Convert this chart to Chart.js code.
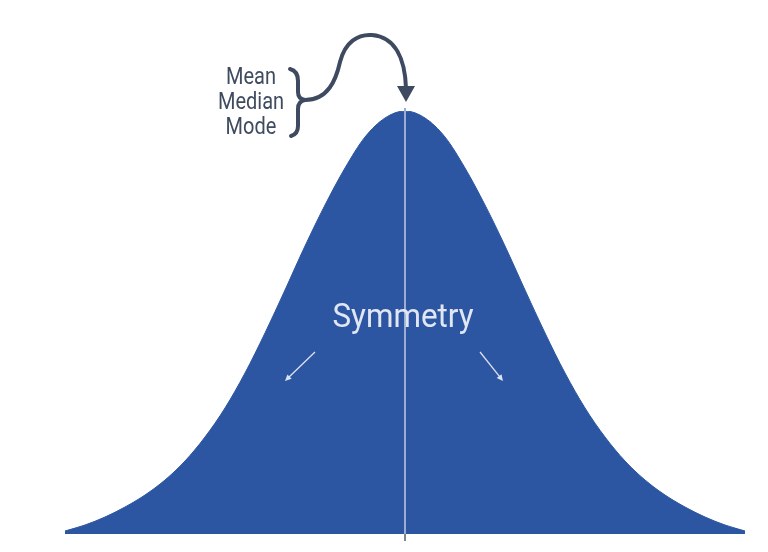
<!DOCTYPE html>
<html>
<head>
<meta charset="utf-8">
<script src="https://cdn.jsdelivr.net/npm/chart.js@4"></script>
<style>
  html, body { margin: 0; padding: 0; background: #fff; }
  #wrap { width: 768px; height: 552px; position: relative; }
</style>
</head>
<body>
<div id="wrap"><canvas id="chart"></canvas></div>
<script>
// positions along the curve (centre = 0) and the curve heights
const xs = [-3.4, -3.2, -3.0, -2.8, -2.6, -2.4, -2.2, -2.0, -1.8, -1.6, -1.4, -1.2, -1.0, -0.8, -0.6, -0.4, -0.2,
  0, 0.2, 0.4, 0.6, 0.8, 1.0, 1.2, 1.4, 1.6, 1.8, 2.0, 2.2, 2.4, 2.6, 2.8, 3.0, 3.2, 3.4];
const heights = [3, 9, 17, 27, 39, 54, 73, 97, 126, 161, 201, 244, 288, 329, 366, 397, 416,
  423, 416, 397, 366, 329, 288, 244, 201, 161, 126, 97, 73, 54, 39, 27, 17, 9, 3];
const centreLabels = ["Mean", "Median", "Mode"];
const middleLabel = "Symmetry";

const ctx = document.getElementById("chart").getContext("2d");

const points = xs.map((x, i) => ({ x: x, y: heights[i] }));

const arrow = (c, x1, y1, x2, y2, head) => {
  const a = Math.atan2(y2 - y1, x2 - x1);
  c.beginPath();
  c.moveTo(x1, y1);
  c.lineTo(x2 - Math.cos(a) * head * 0.6, y2 - Math.sin(a) * head * 0.6);
  c.stroke();
  c.beginPath();
  c.moveTo(x2, y2);
  c.lineTo(x2 - head * Math.cos(a - 0.45), y2 - head * Math.sin(a - 0.45));
  c.lineTo(x2 - head * Math.cos(a + 0.45), y2 - head * Math.sin(a + 0.45));
  c.closePath();
  c.fill();
};

// narrow text a little, the picture uses a condensed face
const squeezedText = (c, text, x, y, sx) => {
  c.save();
  c.translate(x, y);
  c.scale(sx, 1);
  c.fillText(text, 0, 0);
  c.restore();
};

const decorations = {
  id: "decorations",
  afterDatasetsDraw(chart) {
    const c = chart.ctx;
    const xScale = chart.scales.x, yScale = chart.scales.y;
    const cx = xScale.getPixelForValue(0);
    const top = yScale.getPixelForValue(Math.max(...heights));
    const base = yScale.getPixelForValue(0);
    c.save();

    // centre line
    c.strokeStyle = "#9cafd2";
    c.lineWidth = 2;
    c.beginPath();
    c.moveTo(cx, top - 3);
    c.lineTo(cx, base);
    c.stroke();
    c.strokeStyle = "#7d8593";
    c.beginPath();
    c.moveTo(cx, base);
    c.lineTo(cx, base + 7);
    c.stroke();

    // Symmetry label with its two arrows
    c.fillStyle = "#e1e6f3";
    c.font = "33px Roboto";
    c.textAlign = "center";
    c.textBaseline = "alphabetic";
    squeezedText(c, middleLabel, cx - 2, top + 216, 0.95);
    c.strokeStyle = "#dbe2f1";
    c.fillStyle = "#dbe2f1";
    c.lineWidth = 1.3;
    arrow(c, cx - 90, top + 241, cx - 120, top + 270, 7);
    arrow(c, cx + 75, top + 241, cx + 98, top + 270, 7);

    // Mean / Median / Mode
    c.fillStyle = "#3f4b5e";
    c.font = "23px Roboto";
    c.textAlign = "center";
    centreLabels.forEach((t, i) => squeezedText(c, t, 251, 84 + i * 25, 0.87));

    // brace
    c.strokeStyle = "#3d4a5f";
    c.fillStyle = "#3d4a5f";
    c.lineWidth = 4;
    c.lineCap = "round";
    c.lineJoin = "round";
    c.beginPath();
    c.moveTo(290, 69);
    c.quadraticCurveTo(298, 71, 298, 81);
    c.lineTo(298, 92);
    c.quadraticCurveTo(298, 99, 305, 100);
    c.quadraticCurveTo(298, 101, 298, 109);
    c.lineTo(298, 126);
    c.quadraticCurveTo(298, 134, 291, 136);
    c.stroke();

    // curved arrow down to the peak
    c.beginPath();
    c.moveTo(305, 100);
    c.bezierCurveTo(328, 100, 336, 80, 340, 62);
    c.bezierCurveTo(345, 42, 358, 34, 372, 35);
    c.bezierCurveTo(396, 37, 405, 60, 406, 88);
    c.stroke();
    c.beginPath();
    c.moveTo(397, 86);
    c.lineTo(415, 86);
    c.lineTo(406, 102);
    c.closePath();
    c.fill();

    c.restore();
  }
};

const config = {
  type: "line",
  data: {
    datasets: [
      {
        data: points,
        borderColor: "#2d56a2",
        borderWidth: 1,
        backgroundColor: "#2d56a2",
        fill: "origin",
        pointRadius: 0,
        tension: 0.4,
        cubicInterpolationMode: "monotone",
      },
    ],
  },
  options: {
    responsive: true,
    maintainAspectRatio: false,
    animation: false,
    layout: { padding: { left: 65, right: 23, top: 111, bottom: 18 } },
    plugins: { legend: { display: false }, tooltip: { enabled: false } },
    scales: {
      x: { type: "linear", min: -3.4, max: 3.4, display: false },
      y: { min: 0, max: 423, display: false },
    },
  },
  plugins: [decorations],
};

const chart = new Chart(ctx, config);
</script>
</body>
</html>
